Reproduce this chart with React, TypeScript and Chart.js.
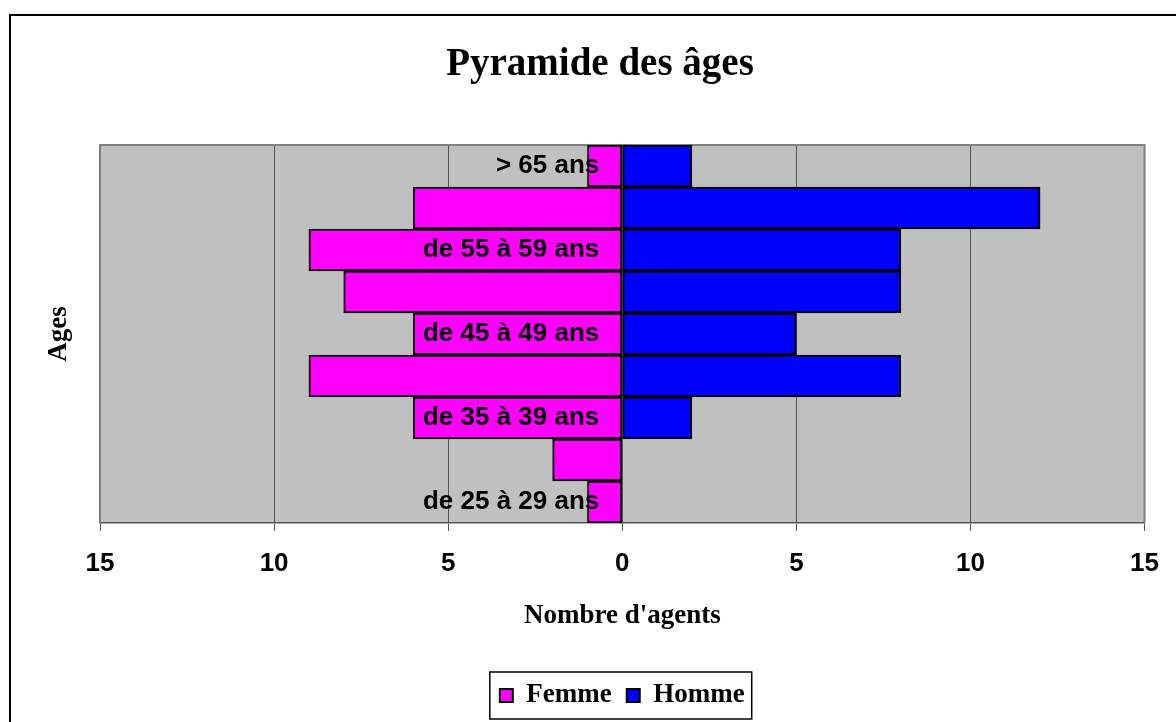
import React, { useEffect, useRef } from "react";
import { Chart, registerables } from "chart.js";

Chart.register(...registerables);

// Categories from top to bottom
const ageGroups = [
  "> 65 ans",
  "de 60 à 64 ans",
  "de 55 à 59 ans",
  "de 50 à 54 ans",
  "de 45 à 49 ans",
  "de 40 à 44 ans",
  "de 35 à 39 ans",
  "de 30 à 34 ans",
  "de 25 à 29 ans",
];
const femme = [1, 6, 9, 8, 6, 9, 6, 2, 1];
const homme = [2, 12, 8, 8, 5, 8, 2, 0, 0];

const xMin = -15;
const xMax = 15;
const xStep = 5;

const SERIF = '"Liberation Serif", "Times New Roman", serif';
const SANS = '"Liberation Sans", Arial, sans-serif';

const decorPlugin = {
  id: "decor",
  beforeDraw(chart: any) {
    const { ctx, chartArea } = chart;
    ctx.save();
    ctx.fillStyle = "#ffffff";
    ctx.fillRect(0, 0, chart.width, chart.height);
    ctx.strokeStyle = "#000000";
    ctx.lineWidth = 2;
    ctx.strokeRect(10, 15, chart.width + 20, chart.height + 20);
    ctx.fillStyle = "#C0C0C0";
    ctx.fillRect(chartArea.left, chartArea.top, chartArea.right - chartArea.left, chartArea.bottom - chartArea.top);
    ctx.restore();
  },
  beforeDatasetsDraw(chart: any) {
    const { ctx, chartArea } = chart;
    ctx.save();
    ctx.strokeStyle = "#808080";
    ctx.lineWidth = 2;
    ctx.beginPath();
    ctx.moveTo(chartArea.left, chartArea.bottom);
    ctx.lineTo(chartArea.left, chartArea.top);
    ctx.lineTo(chartArea.right, chartArea.top);
    ctx.lineTo(chartArea.right, chartArea.bottom);
    ctx.stroke();
    ctx.restore();
  },
  afterDatasetsDraw(chart: any) {
    const { ctx } = chart;
    const xs = chart.scales.x;
    const ys = chart.scales.y;
    const labels = chart.data.labels as string[];
    ctx.save();
    ctx.font = `bold 26px ${SANS}`;
    ctx.fillStyle = "#000000";
    ctx.textAlign = "right";
    ctx.textBaseline = "middle";
    const x0 = xs.getPixelForValue(0) - 23;
    labels.forEach((lab, i) => {
      if ((labels.length - 1 - i) % 2 !== 0) return;
      ctx.fillText(lab, x0, ys.getPixelForValue(i));
    });
    ctx.restore();
  },
  afterDraw(chart: any) {
    const { ctx } = chart;
    const hb = chart.legend && chart.legend.legendHitBoxes;
    if (!hb || !hb.length) return;
    const first = hb[0];
    const last = hb[hb.length - 1];
    ctx.save();
    ctx.strokeStyle = "#000000";
    ctx.lineWidth = 1.5;
    const left = first.left - 10;
    const top = first.top - 10;
    const right = last.left + last.width + 7;
    const bottom = first.top + 37;
    ctx.strokeRect(left, top, right - left, bottom - top);
    ctx.restore();
  },
};

export default function App() {
  const canvasRef = useRef<HTMLCanvasElement | null>(null);

  useEffect(() => {
    if (!canvasRef.current) return;
    const chart = new Chart(canvasRef.current, {
      type: "bar",
      data: {
        labels: ageGroups,
        datasets: [
          {
            label: "Femme",
            data: femme.map((v) => -v),
            backgroundColor: "#FF00FF",
            borderColor: "#000000",
            borderWidth: 2,
            borderSkipped: false,
          },
          {
            label: "Homme",
            data: homme,
            backgroundColor: "#0000FF",
            borderColor: "#000000",
            borderWidth: 2,
            borderSkipped: false,
          },
        ],
      },
      options: {
        responsive: false,
        animation: false,
        indexAxis: "y",
        events: [],
        layout: { padding: { left: 51, right: 27, top: 0, bottom: 3 } },
        datasets: { bar: { barPercentage: 1, categoryPercentage: 1 } },
        scales: {
          x: {
            type: "linear",
            stacked: true,
            min: xMin,
            max: xMax,
            position: "bottom",
            ticks: {
              stepSize: xStep,
              callback: (v: any) => String(Math.abs(Number(v))),
              font: { family: SANS, size: 26, weight: "bold" },
              color: "#000000",
              padding: 17,
            },
            grid: { color: "#555555", lineWidth: 1, tickLength: 8, drawTicks: true },
            border: { display: true, color: "#555555", width: 1.5 },
            title: {
              display: true,
              text: "Nombre d'agents",
              font: { family: SERIF, size: 27, weight: "bold" },
              color: "#000000",
              padding: { top: 0, bottom: 35 },
            },
            afterFit: (s: any) => {
              s.height = 144;
            },
          },
          y: {
            type: "category",
            stacked: true,
            position: "left",
            ticks: { display: false },
            grid: { display: false },
            border: { display: false },
            title: {
              display: true,
              text: "Ages",
              font: { family: SERIF, size: 27, weight: "bold" },
              color: "#000000",
              padding: { top: -8, bottom: 0 },
            },
            afterFit: (s: any) => {
              s.width = 49;
            },
          },
        },
        plugins: {
          title: {
            display: true,
            text: "Pyramide des âges",
            font: { family: SERIF, size: 39, weight: "bold" },
            color: "#000000",
            padding: { top: 41.5, bottom: 56.7 },
          },
          legend: {
            position: "bottom",
            fullSize: false,
            labels: {
              boxWidth: 13,
              boxHeight: 13,
              padding: 15,
              font: { family: SERIF, size: 27, weight: "bold" },
              color: "#000000",
            },
          },
          tooltip: { enabled: false },
        },
      } as any,
      plugins: [decorPlugin],
    });
    return () => chart.destroy();
  }, []);

  return (
    <div style={{ position: "fixed", left: 0, top: 0, width: 1176, height: 722 }}>
      <canvas ref={canvasRef} width={1176} height={722} style={{ display: "block", width: 1176, height: 722 }} />
    </div>
  );
}
